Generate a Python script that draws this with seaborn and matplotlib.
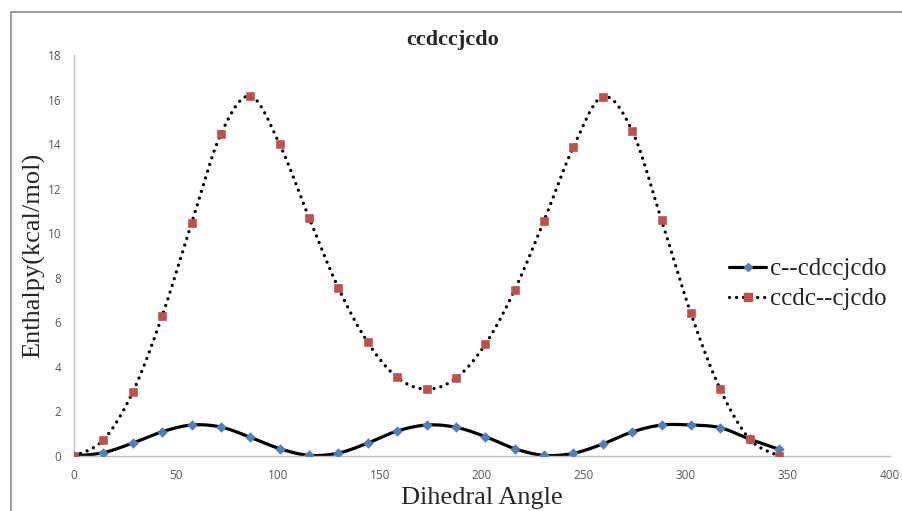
import numpy as np
import pandas as pd
import matplotlib
matplotlib.use("Agg")
import matplotlib.pyplot as plt
import seaborn as sns
from matplotlib.lines import Line2D

# ---- data ----
angles = [0, 14.4, 28.8, 43.2, 57.6, 72, 86.4, 100.8, 115.2, 129.6, 144, 158.4,
          172.8, 187.2, 201.6, 216, 230.4, 244.8, 259.2, 273.6, 288, 302.4, 316.8,
          331.2, 345.6]
c_cdccjcdo = [0, 0.15, 0.58, 1.09, 1.39, 1.30, 0.84, 0.33, 0.03, 0.13, 0.58, 1.12,
              1.39, 1.29, 0.87, 0.33, 0.03, 0.12, 0.54, 1.08, 1.39, 1.39, 1.27,
              0.76, 0.30]
ccdc_cjcdo = [0, 0.72, 2.87, 6.28, 10.44, 14.45, 16.16, 13.99, 10.70, 7.54, 5.10, 3.53,
              3.00, 3.49, 5.01, 7.45, 10.56, 13.87, 16.13, 14.60, 10.59, 6.40, 2.99,
              0.76, 0.0]
series_names = ["c--cdccjcdo", "ccdc--cjcdo"]
title = "ccdccjcdo"
xlabel = "Dihedral Angle"
ylabel = "Enthalpy(kcal/mol)"
xticks = [0, 50, 100, 150, 200, 250, 300, 350, 400]
yticks = [0, 2, 4, 6, 8, 10, 12, 14, 16, 18]

blue = "#4F81BD"
red = "#C0504D"
DOT = (0, (0.01, 2.1))


def smooth(xs, ys, n=20):
    """Catmull-Rom (Excel-style smoothed line) through the points."""
    p = np.column_stack([xs, ys]).astype(float)
    p = np.vstack([p[0], p, p[-1]])
    out = []
    t = np.linspace(0, 1, n, endpoint=False)
    for i in range(1, len(p) - 2):
        p0, p1, p2, p3 = p[i - 1], p[i], p[i + 1], p[i + 2]
        c1 = p1 + (p2 - p0) / 6
        c2 = p2 - (p3 - p1) / 6
        seg = ((1 - t) ** 3)[:, None] * p1 + (3 * (1 - t) ** 2 * t)[:, None] * c1 \
            + (3 * (1 - t) * t ** 2)[:, None] * c2 + (t ** 3)[:, None] * p2
        out.append(seg)
    out.append(p[-2][None, :])
    out = np.vstack(out)
    return out[:, 0], out[:, 1]


fig = plt.figure(figsize=(9.03, 5.11), dpi=100)
sns.set_style("white")
ax = fig.add_axes([74 / 903, (511 - 456) / 511, (890 - 74) / 903, (456 - 55) / 511])

sx, sy = smooth(angles, c_cdccjcdo)
sns.lineplot(x=sx, y=sy, ax=ax, color="black", lw=2.3, sort=False, estimator=None)
sx2, sy2 = smooth(angles, ccdc_cjcdo)
sns.lineplot(x=sx2, y=sy2, ax=ax, color="black", lw=2.4, sort=False, estimator=None,
             linestyle=DOT, dash_capstyle="round")
sns.scatterplot(x=angles, y=c_cdccjcdo, ax=ax, marker="D", color=blue, s=24,
                edgecolor=blue, zorder=5)
sns.scatterplot(x=angles, y=ccdc_cjcdo, ax=ax, marker="s", color=red, s=32,
                edgecolor=red, zorder=5)

ax.set_xlim(0, 400)
ax.set_ylim(0, 18)
ax.set_xticks(xticks)
ax.set_yticks(yticks)
ax.set_xticklabels([str(v) for v in xticks])
ax.set_yticklabels([str(v) for v in yticks])
ax.tick_params(axis="both", length=0, labelsize=8.5, labelcolor="#595959", pad=9)
for lab in ax.get_xticklabels() + ax.get_yticklabels():
    lab.set_family("Open Sans")
for s in ["top", "right"]:
    ax.spines[s].set_visible(False)
for s in ["left", "bottom"]:
    ax.spines[s].set_color("#BFBFBF")
    ax.spines[s].set_linewidth(1.0)
ax.grid(False)

ax.set_xlabel(xlabel, family="Liberation Serif", fontsize=19, labelpad=4)
ax.set_ylabel(ylabel, family="Liberation Serif", fontsize=19, labelpad=2)
fig.text(453 / 903, 1 - 40 / 511, title, family="Liberation Serif", fontsize=16,
         fontweight="bold", ha="center", va="center")

handles = [
    Line2D([], [], color="black", lw=2.3, marker="D", markersize=4.5,
           markerfacecolor=blue, markeredgecolor=blue),
    Line2D([], [], color="black", lw=2.4, linestyle=DOT,
           dash_capstyle="round", marker="s", markersize=5.5,
           markerfacecolor=red, markeredgecolor=red),
]
fig.legend(handles, series_names, loc="center left",
           bbox_to_anchor=(729 / 903, 1 - 284 / 511), frameon=False,
           prop={"family": "Liberation Serif", "size": 18}, handlelength=1.5,
           handletextpad=0.15, labelspacing=0.3, borderpad=0, borderaxespad=0)

# outer chart border
fig.add_artist(Line2D([11 / 903, 1], [1 - 12 / 511] * 2, color="#8C8C8C", lw=1.2,
                      transform=fig.transFigure))
fig.add_artist(Line2D([11 / 903] * 2, [0, 1 - 12 / 511], color="#8C8C8C", lw=1.2,
                      transform=fig.transFigure))

fig.savefig("out.png", dpi=100)
